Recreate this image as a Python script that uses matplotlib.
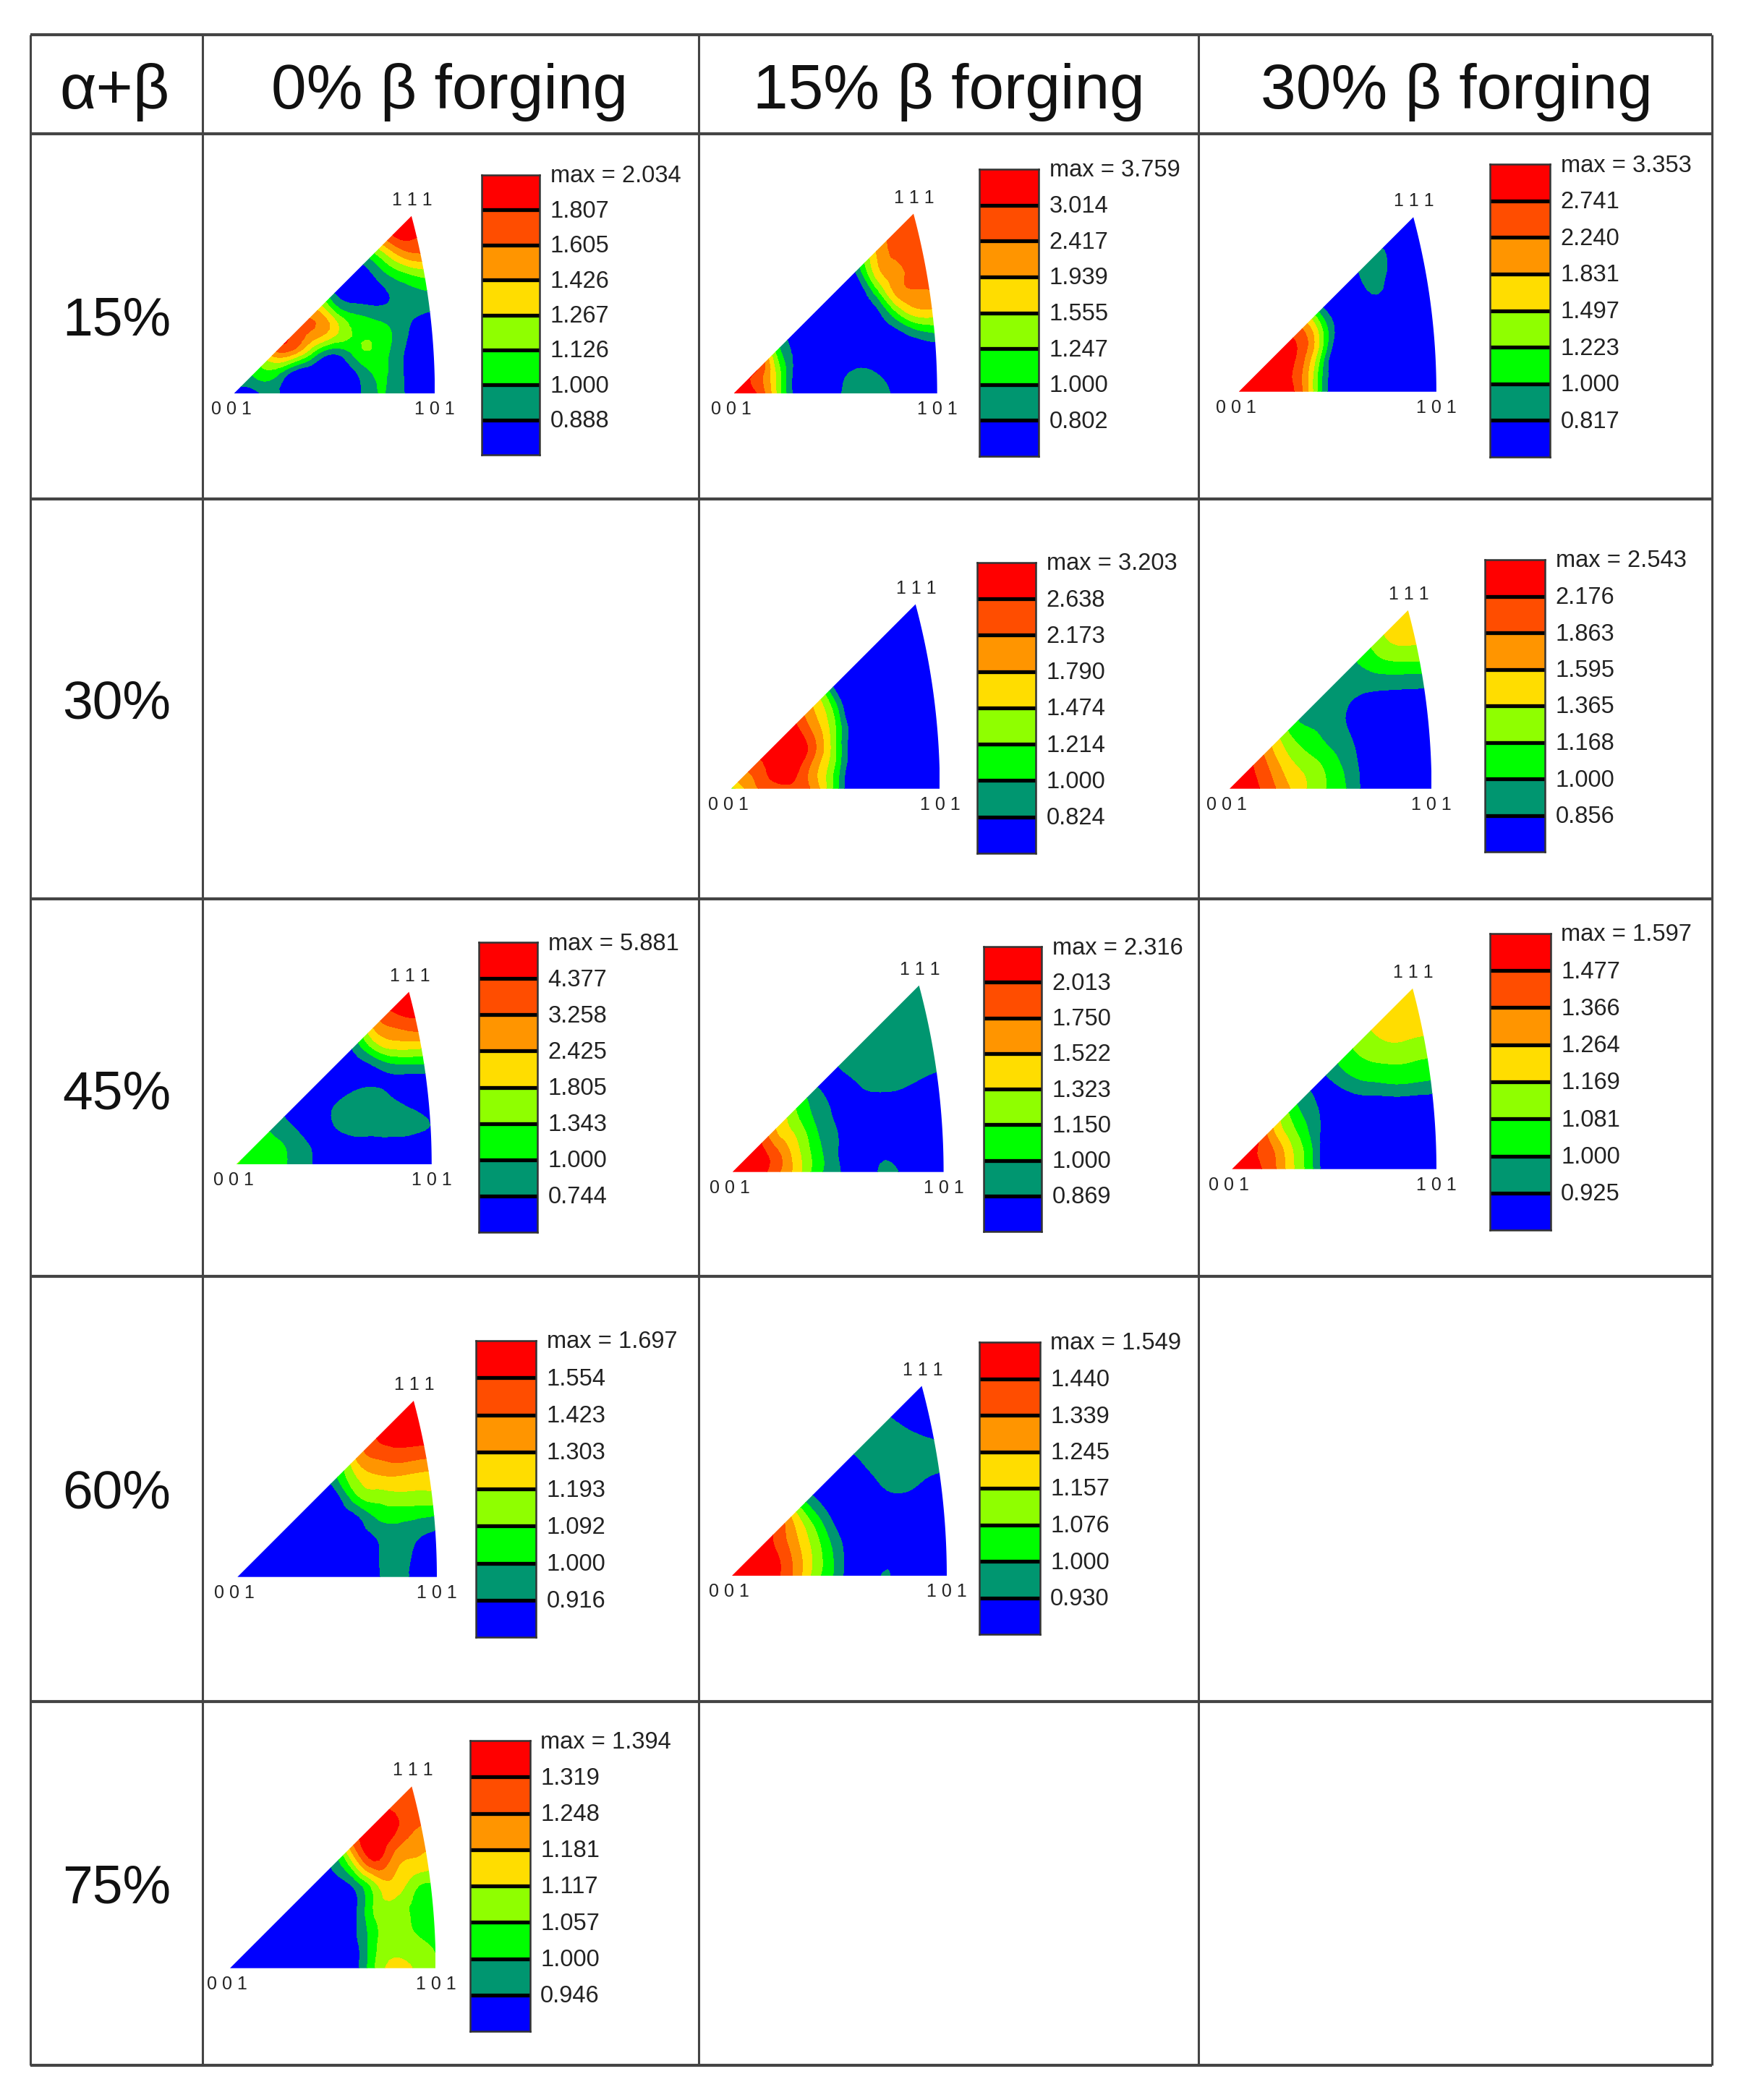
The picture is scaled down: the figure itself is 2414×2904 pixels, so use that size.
import numpy as np
import matplotlib
matplotlib.use("Agg")
import matplotlib.pyplot as plt
import matplotlib.tri as mtri
from matplotlib.path import Path
from matplotlib.patches import PathPatch
from matplotlib.transforms import ScaledTranslation

plt.rcParams['font.family'] = ['Liberation Sans', 'DejaVu Sans']

W, H = 2414, 2904

# table text
col_heads = ['α+β', '0% β forging', '15% β forging', '30% β forging']
row_heads = ['15%', '30%', '45%', '60%', '75%']

band_colors = ['#0000FF', '#009670', '#00FF00', '#8FFF00',
               '#FFDD00', '#FF9500', '#FF4D00', '#FF0000']

# colour bar labels, top to bottom
ticks_15_0 = ['max = 2.034', '1.807', '1.605', '1.426', '1.267', '1.126', '1.000', '0.888']
ticks_15_15 = ['max = 3.759', '3.014', '2.417', '1.939', '1.555', '1.247', '1.000', '0.802']
ticks_15_30 = ['max = 3.353', '2.741', '2.240', '1.831', '1.497', '1.223', '1.000', '0.817']
ticks_30_15 = ['max = 3.203', '2.638', '2.173', '1.790', '1.474', '1.214', '1.000', '0.824']
ticks_30_30 = ['max = 2.543', '2.176', '1.863', '1.595', '1.365', '1.168', '1.000', '0.856']
ticks_45_0 = ['max = 5.881', '4.377', '3.258', '2.425', '1.805', '1.343', '1.000', '0.744']
ticks_45_15 = ['max = 2.316', '2.013', '1.750', '1.522', '1.323', '1.150', '1.000', '0.869']
ticks_45_30 = ['max = 1.597', '1.477', '1.366', '1.264', '1.169', '1.081', '1.000', '0.925']
ticks_60_0 = ['max = 1.697', '1.554', '1.423', '1.303', '1.193', '1.092', '1.000', '0.916']
ticks_60_15 = ['max = 1.549', '1.440', '1.339', '1.245', '1.157', '1.076', '1.000', '0.930']
ticks_75_0 = ['max = 1.394', '1.319', '1.248', '1.181', '1.117', '1.057', '1.000', '0.946']

# one row per v = 0, 0.1 ... 0.9; row k starts at u = max(k-1, 0)/10 and ends at u = 1
field_15_0 = [
    [0.5, 0.7, 1.2, 0.2, 0.2, 0.2, 0.5, 1.9, 1.6, 0.5, 0.4],
    [2.0, 2.2, 2.5, 0.5, 0.1, 0.1, 0.8, 2.1, 1.6, 0.4, 0.3],
    [4.0, 5.6, 5.2, 2.6, 1.1, 2.3, 2.8, 1.6, 0.5, 0.3],
    [7.0, 6.6, 5.7, 4.3, 2.9, 2.7, 1.8, 0.7, 0.3],
    [5.0, 5.5, 3.2, 1.9, 1.5, 1.3, 1.1, 0.9],
    [3.0, 1.0, 0.2, 0.5, 1.2, 1.7, 1.9],
    [0.5, 0.2, 1.2, 2.5, 3.3, 3.8],
    [2.0, 3.0, 5.0, 6.0, 5.8],
    [6.0, 7.3, 7.2, 7.1],
    [7.8, 8.0, 7.5],
]
field_15_15 = [
    [8.5, 7.2, 4.4, 0.7, 0.4, 0.8, 1.5, 1.4, 0.8, 0.3, 0.3],
    [8.0, 7.0, 4.2, 0.7, 0.4, 0.6, 1.2, 1.0, 0.6, 0.3, 0.3],
    [7.0, 3.2, 0.8, 0.4, 0.3, 0.3, 0.3, 0.3, 0.3, 0.3],
    [1.5, 0.5, 0.3, 0.3, 0.3, 0.3, 0.7, 1.6, 2.1],
    [0.5, 0.3, 0.3, 0.3, 0.7, 3.0, 4.6, 4.5],
    [0.3, 0.3, 0.3, 2.5, 5.3, 5.9, 6.0],
    [0.3, 1.1, 4.5, 5.7, 6.5, 6.5],
    [3.5, 5.0, 6.3, 6.5, 6.5],
    [6.0, 6.3, 6.6, 6.6],
    [6.5, 6.6, 6.6],
]
field_15_30 = [
    [9.0, 8.5, 7.8, 6.6, 2.9, 0.0, 0.3, 0.3, 0.3, 0.3, 0.3],
    [9.0, 8.5, 7.6, 6.5, 3.0, 0.0, 0.3, 0.3, 0.3, 0.3, 0.3],
    [8.5, 8.0, 6.9, 3.9, 0.0, 0.3, 0.3, 0.3, 0.3, 0.3],
    [7.0, 6.5, 4.1, 0.6, 0.3, 0.3, 0.3, 0.3, 0.3],
    [4.0, 2.2, 0.3, 0.3, 0.5, 0.3, 0.3, 0.3],
    [0.3, 0.3, 0.5, 1.05, 0.3, 0.3, 0.3],
    [0.3, 0.9, 1.5, 0.3, 0.3, 0.3],
    [1.0, 1.3, 0.4, 0.3, 0.3],
    [0.5, 0.3, 0.3, 0.3],
    [0.3, 0.3, 0.3],
]
field_30_15 = [
    [3.5, 5.6, 6.5, 6.7, 5.6, 2.5, -0.2, 0.2, 0.2, 0.2, 0.2],
    [6.0, 6.3, 7.4, 7.5, 5.4, 2.8, -0.2, 0.2, 0.2, 0.2, 0.2],
    [7.5, 7.5, 8.0, 6.2, 3.1, 0.0, 0.2, 0.2, 0.2, 0.2],
    [8.0, 7.3, 5.5, 3.0, 0.0, 0.2, 0.2, 0.2, 0.2],
    [6.0, 4.8, 2.2, -0.5, 0.2, 0.2, 0.2, 0.2],
    [3.0, 0.5, 0.2, 0.2, 0.2, 0.2, 0.2],
    [0.2, 0.2, 0.2, 0.2, 0.2, 0.2],
    [0.2, 0.2, 0.2, 0.2, 0.2],
    [0.2, 0.2, 0.2, 0.2],
    [0.2, 0.2, 0.2],
]
field_30_30 = [
    [8.5, 7.5, 6.4, 5.0, 3.8, 2.8, 1.7, 0.4, 0.3, 0.3, 0.3],
    [8.0, 7.2, 5.9, 4.4, 3.6, 2.6, 1.5, 0.4, 0.3, 0.3, 0.3],
    [6.5, 5.2, 3.6, 2.7, 2.0, 1.2, 0.4, 0.3, 0.3, 0.3],
    [4.0, 2.7, 2.0, 1.5, 0.9, 0.4, 0.3, 0.3, 0.3],
    [2.0, 1.4, 1.4, 0.9, 0.6, 0.4, 0.4, 0.4],
    [1.6, 1.5, 1.3, 1.15, 1.1, 1.05, 1.0],
    [1.6, 1.7, 2.2, 2.5, 2.5, 2.5],
    [2.5, 3.0, 3.8, 3.9, 3.9],
    [3.8, 4.4, 4.5, 4.5],
    [4.6, 4.6, 4.6],
]
field_45_0 = [
    [3.0, 2.8, 2.5, 1.6, 0.9, 0.3, 0.3, 0.3, 0.3, 0.3, 0.3],
    [3.0, 2.7, 2.3, 1.5, 0.8, 0.4, 0.6, 0.6, 0.6, 0.4, 0.3],
    [2.2, 1.5, 0.9, 0.4, 1.0, 1.5, 1.5, 1.5, 1.4, 0.95],
    [1.0, 0.5, 0.4, 1.0, 1.5, 1.6, 1.3, 0.8, 0.3],
    [0.4, 0.3, 0.5, 0.8, 0.95, 0.7, 0.3, 0.3],
    [0.4, 0.4, 0.5, 0.9, 1.6, 1.7, 1.7],
    [0.4, 1.2, 3.2, 4.25, 4.25, 4.2],
    [3.0, 5.0, 5.95, 6.3, 6.2],
    [6.5, 7.2, 7.5, 7.4],
    [7.8, 7.9, 7.9],
]
field_45_15 = [
    [8.7, 7.9, 6.4, 4.6, 2.4, 1.15, 0.3, 1.1, 0.9, 0.3, 0.3],
    [8.5, 7.7, 6.3, 4.4, 2.4, 1.0, 0.2, 0.8, 0.5, 0.3, 0.3],
    [7.0, 5.1, 3.7, 2.0, 0.95, 0.3, 0.4, 0.3, 0.3, 0.3],
    [5.0, 3.0, 1.7, 0.6, 0.3, 0.3, 0.3, 0.3, 0.3],
    [2.0, 1.05, 0.4, 0.9, 1.2, 1.05, 0.7, 0.4],
    [0.3, 1.0, 1.4, 1.5, 1.5, 1.3, 1.1],
    [1.4, 1.5, 1.5, 1.5, 1.5, 1.5],
    [1.5, 1.5, 1.5, 1.5, 1.5],
    [1.5, 1.5, 1.5, 1.5],
    [1.5, 1.5, 1.5],
]
field_45_30 = [
    [8.5, 7.4, 6.3, 4.1, 1.9, -0.3, 0.3, 0.3, 0.3, 0.3, 0.3],
    [8.0, 7.2, 6.0, 3.9, 1.8, -0.3, 0.3, 0.3, 0.3, 0.3, 0.3],
    [7.0, 5.0, 3.1, 1.5, 0.2, 0.3, 0.3, 0.3, 0.3, 0.3],
    [4.0, 2.4, 1.2, 0.3, 0.3, 0.3, 0.3, 0.3, 0.4],
    [1.5, 0.8, 0.8, 1.4, 1.6, 1.75, 1.6, 1.4],
    [1.0, 1.7, 2.5, 2.8, 2.9, 2.8, 2.7],
    [2.5, 3.1, 3.6, 3.8, 3.5, 3.4],
    [3.8, 4.2, 4.6, 4.5, 4.4],
    [4.5, 4.6, 4.6, 4.6],
    [4.7, 4.7, 4.7],
]
field_60_0 = [
    [0.4, 0.4, 0.4, 0.4, 0.4, 0.4, 0.4, 0.85, 1.45, 0.6, 0.3],
    [0.4, 0.4, 0.4, 0.4, 0.4, 0.4, 0.4, 0.9, 1.5, 0.7, 0.3],
    [0.4, 0.4, 0.4, 0.4, 0.4, 0.6, 1.05, 1.6, 1.1, 0.7],
    [0.3, 0.3, 0.3, 0.4, 0.85, 2.1, 2.3, 2.1, 1.8],
    [0.3, 0.3, 0.7, 2.8, 3.4, 3.6, 3.6, 3.7],
    [0.5, 2.0, 4.0, 4.8, 4.9, 4.7, 4.6],
    [3.0, 5.2, 6.1, 6.4, 6.2, 6.1],
    [6.0, 7.05, 7.4, 7.35, 7.3],
    [7.2, 7.6, 7.6, 7.6],
    [7.7, 7.8, 7.8],
]
field_60_15 = [
    [9.0, 8.3, 7.3, 5.6, 3.2, 1.4, -0.3, 1.05, 0.3, 0.3, 0.3],
    [8.5, 8.2, 7.2, 5.5, 3.4, 1.4, 0.0, 0.6, 0.3, 0.3, 0.3],
    [8.0, 6.9, 5.0, 2.9, 0.9, 0.1, 0.3, 0.3, 0.3, 0.3],
    [6.0, 3.9, 1.7, 0.3, 0.3, 0.3, 0.3, 0.3, 0.3],
    [1.5, 0.5, 0.3, 0.4, 0.9, 1.1, 0.7, 0.4],
    [0.5, 0.4, 0.8, 1.4, 1.6, 1.3, 1.1],
    [1.0, 1.3, 1.6, 1.6, 1.4, 1.2],
    [1.4, 1.3, 0.95, 0.5, 0.3],
    [0.9, 0.5, 0.3, 0.3],
    [0.3, 0.3, 0.3],
]
field_75_0 = [
    [0.3, 0.3, 0.3, 0.3, 0.3, 0.3, 0.5, 2.9, 4.4, 3.9, 3.1],
    [0.3, 0.3, 0.3, 0.3, 0.3, 0.3, 0.5, 2.7, 3.7, 3.4, 2.9],
    [0.3, 0.3, 0.3, 0.3, 0.3, 0.7, 2.7, 3.4, 2.9, 2.6],
    [0.3, 0.3, 0.3, 0.3, 0.6, 3.1, 3.6, 2.8, 2.5],
    [0.3, 0.3, 0.4, 1.1, 3.5, 4.6, 3.2, 2.9],
    [0.3, 1.2, 3.7, 6.5, 5.3, 4.6, 4.2],
    [3.0, 6.0, 7.6, 6.4, 5.4, 5.0],
    [7.0, 7.3, 7.2, 6.2, 6.0],
    [7.3, 6.7, 6.5, 6.3],
    [6.6, 6.5, 6.5],
]


def to_grid(rows):
    # pad the left of each row, outside the triangle, with its first value
    out = []
    for r in rows:
        out.append([r[0]] * (11 - len(r)) + list(r))
    return np.array(out)


u = np.linspace(0, 1, 11)
v = np.linspace(0, 0.9, 10)
U, V = np.meshgrid(u, v)
base_tri = mtri.Triangulation(U.ravel(), V.ravel())
refiner = mtri.UniformTriRefiner(base_tri)

# stereographic triangle, 001-101 edge scaled to 1
t = np.tan(np.radians(22.5))
apex = (np.sqrt(3) - 1) / 2 / t
arc_y = np.linspace(apex, 0, 40)
arc_x = (np.sqrt(2 - (arc_y * t) ** 2) - 1) / t
outline = np.vstack([[0, 0], np.column_stack([arc_x, arc_y]), [0, 0]])

levels = [-100, 1, 2, 3, 4, 5, 6, 7, 100]

fig = plt.figure(figsize=(W / 100, H / 100), dpi=100)
bg = fig.add_axes([0, 0, 1, 1])
bg.set_xlim(0, W)
bg.set_ylim(H, 0)
bg.axis('off')

# table lines
col_x = [42, 280, 966, 1657, 2367]
row_y = [48, 185, 690, 1243, 1765, 2353, 2856]
bg.hlines(row_y, col_x[0], col_x[-1], color='#444444', lw=3.0)
bg.vlines(col_x, row_y[0], row_y[-1], color='#444444', lw=2.2)

for x, s in zip([159, 622, 1312, 2014], col_heads):
    bg.text(x, 150, s, ha='center', va='baseline', fontsize=63, color='#111111')
for y, s in zip([463, 993, 1534, 2086, 2631], row_heads):
    bg.text(161, y, s, ha='center', va='baseline', fontsize=54, color='#111111')

# field, ticks, x001, y001, scale, bar left, bar right, bar top, bar bottom
panels = [
    (field_15_0, ticks_15_0, 323.6, 544, 277.6, 666, 746, 242, 629),
    (field_15_15, ticks_15_15, 1014.5, 544, 281.2, 1354, 1436, 234, 631),
    (field_15_30, ticks_15_30, 1712.7, 541.7, 273.2, 2059.5, 2143, 227, 632),
    (field_30_15, ticks_30_15, 1010.7, 1090.7, 288.7, 1350.5, 1432, 778, 1180),
    (field_30_30, ticks_30_30, 1700, 1090.7, 279.3, 2052.7, 2136, 774, 1178),
    (field_45_0, ticks_45_0, 327, 1610, 269.8, 661.5, 743, 1303, 1704),
    (field_45_15, ticks_45_15, 1012.7, 1620.7, 291.9, 1360, 1440, 1309, 1703),
    (field_45_30, ticks_45_30, 1703.3, 1616.7, 282.7, 2060, 2143.5, 1291, 1701),
    (field_60_0, ticks_60_0, 328.3, 2180.7, 275.7, 657.7, 741, 1854, 2264),
    (field_60_15, ticks_60_15, 1011.7, 2179.3, 297.3, 1354, 1437.6, 1856, 2260),
    (field_75_0, ticks_75_0, 318, 2721.7, 284.4, 649.5, 732.5, 2407, 2809),
]

nudge = ScaledTranslation(0, -2 / 100, fig.dpi_scale_trans)

for field, ticks, x0, y0, s, bl, br, bt, bb in panels:
    ax = fig.add_axes([x0 / W, 1 - y0 / H, s / W, 0.9 * s / H])
    ax.set_xlim(0, 1)
    ax.set_ylim(0, 0.9)
    ax.axis('off')
    tri_f, z_f = refiner.refine_field(to_grid(field).ravel(), subdiv=2)
    cs = ax.tricontourf(tri_f, z_f, levels=levels, colors=band_colors)
    clip = PathPatch(Path(outline), facecolor='none', edgecolor='none', transform=ax.transData)
    ax.add_patch(clip)
    cs.set_clip_path(clip)

    for label, xy, off in [('0 0 1', (0, 0), (-4, -22)),
                           ('1 0 1', (1, 0), (0, -22)),
                           ('1 1 1', (apex, apex), (1, 22))]:
        ax.annotate(label, xy=xy, xytext=(off[0] * 0.72, off[1] * 0.72),
                    textcoords='offset points', ha='center', va='center',
                    fontsize=18, color='#222222', annotation_clip=False)

    cb = fig.add_axes([bl / W, 1 - bb / H, (br - bl) / W, (bb - bt) / H])
    cb.bar(np.zeros(8), np.ones(8), width=1, bottom=np.arange(8), color=band_colors)
    cb.hlines(np.arange(1, 8), -0.5, 0.5, color='black', lw=3.8)
    cb.set_xlim(-0.5, 0.5)
    cb.set_ylim(0, 8)
    cb.set_xticks([])
    cb.yaxis.tick_right()
    cb.set_yticks(np.arange(8, 0, -1))
    cb.set_yticklabels(ticks, fontsize=23.5, color='#222222', va='center')
    cb.tick_params(axis='y', length=0, pad=10.5)
    for lab in cb.get_yticklabels():
        lab.set_transform(lab.get_transform() + nudge)
    for sp in cb.spines.values():
        sp.set_color('#333333')
        sp.set_linewidth(1.8)

fig.savefig('out.png', dpi=100)
